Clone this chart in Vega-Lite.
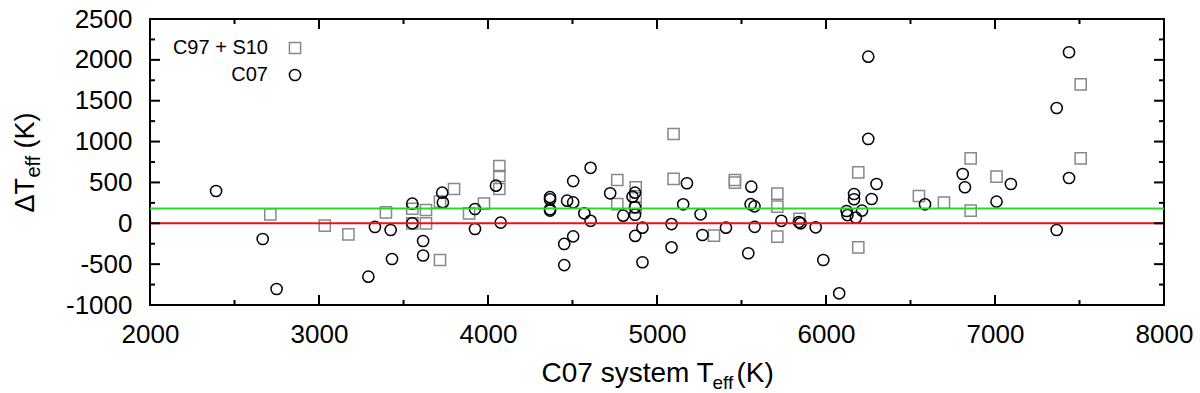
{
  "$schema": "https://vega.github.io/schema/vega-lite/v6.json",
  "width": 1014,
  "height": 286,
  "autosize": "none",
  "padding": {"left": 150, "top": 19, "right": 36, "bottom": 88},
  "background": "white",
  "config": {
    "view": {"stroke": "black", "strokeWidth": 2},
    "font": "Liberation Sans",
    "axis": {"domain": false, "ticks": false, "grid": false, "labelColor": "black", "titleColor": "black", "titleFontWeight": "normal", "labelFlush": false, "labelOverlap": false, "titleAlign": "left", "titleBaseline": "alphabetic"}
  },
  "datasets": {
    "xmajor": [{"v": 2000}, {"v": 3000}, {"v": 4000}, {"v": 5000}, {"v": 6000}, {"v": 7000}, {"v": 8000}],
    "xminor": [{"v": 2500}, {"v": 3500}, {"v": 4500}, {"v": 5500}, {"v": 6500}, {"v": 7500}],
    "ymajor": [{"v": -1000}, {"v": -500}, {"v": 0}, {"v": 500}, {"v": 1000}, {"v": 1500}, {"v": 2000}, {"v": 2500}],
    "yminor": [{"v": -750}, {"v": -250}, {"v": 250}, {"v": 750}, {"v": 1250}, {"v": 1750}, {"v": 2250}],
    "points": [
      {"series": "C07", "teff": 2391, "dteff": 395},
      {"series": "C07", "teff": 2667, "dteff": -192},
      {"series": "C07", "teff": 2749, "dteff": -804},
      {"series": "C07", "teff": 3292, "dteff": -653},
      {"series": "C07", "teff": 3331, "dteff": -45},
      {"series": "C07", "teff": 3424, "dteff": -82},
      {"series": "C07", "teff": 3432, "dteff": -437},
      {"series": "C07", "teff": 3552, "dteff": 240},
      {"series": "C07", "teff": 3552, "dteff": 0},
      {"series": "C07", "teff": 3616, "dteff": -217},
      {"series": "C07", "teff": 3616, "dteff": -394},
      {"series": "C07", "teff": 3729, "dteff": 375},
      {"series": "C07", "teff": 3733, "dteff": 255},
      {"series": "C07", "teff": 3923, "dteff": 175},
      {"series": "C07", "teff": 3923, "dteff": -70},
      {"series": "C07", "teff": 4047, "dteff": 460},
      {"series": "C07", "teff": 4075, "dteff": 8},
      {"series": "C07", "teff": 4367, "dteff": 320},
      {"series": "C07", "teff": 4367, "dteff": 292},
      {"series": "C07", "teff": 4367, "dteff": 172},
      {"series": "C07", "teff": 4367, "dteff": 155},
      {"series": "C07", "teff": 4468, "dteff": 277},
      {"series": "C07", "teff": 4504, "dteff": 516},
      {"series": "C07", "teff": 4504, "dteff": 255},
      {"series": "C07", "teff": 4504, "dteff": -160},
      {"series": "C07", "teff": 4451, "dteff": -253},
      {"series": "C07", "teff": 4451, "dteff": -512},
      {"series": "C07", "teff": 4607, "dteff": 679},
      {"series": "C07", "teff": 4570, "dteff": 122},
      {"series": "C07", "teff": 4607, "dteff": 30},
      {"series": "C07", "teff": 4723, "dteff": 367},
      {"series": "C07", "teff": 4800, "dteff": 93},
      {"series": "C07", "teff": 4870, "dteff": 375},
      {"series": "C07", "teff": 4855, "dteff": 326},
      {"series": "C07", "teff": 4870, "dteff": 196},
      {"series": "C07", "teff": 4870, "dteff": 105},
      {"series": "C07", "teff": 4871, "dteff": -155},
      {"series": "C07", "teff": 4914, "dteff": -54},
      {"series": "C07", "teff": 4914, "dteff": -477},
      {"series": "C07", "teff": 5086, "dteff": -10},
      {"series": "C07", "teff": 5086, "dteff": -294},
      {"series": "C07", "teff": 5155, "dteff": 232},
      {"series": "C07", "teff": 5177, "dteff": 490},
      {"series": "C07", "teff": 5258, "dteff": 110},
      {"series": "C07", "teff": 5269, "dteff": -143},
      {"series": "C07", "teff": 5408, "dteff": -54},
      {"series": "C07", "teff": 5558, "dteff": 448},
      {"series": "C07", "teff": 5554, "dteff": 234},
      {"series": "C07", "teff": 5577, "dteff": 207},
      {"series": "C07", "teff": 5578, "dteff": -43},
      {"series": "C07", "teff": 5540, "dteff": -367},
      {"series": "C07", "teff": 5736, "dteff": 30},
      {"series": "C07", "teff": 5840, "dteff": 15},
      {"series": "C07", "teff": 5850, "dteff": 0},
      {"series": "C07", "teff": 5939, "dteff": -49},
      {"series": "C07", "teff": 5984, "dteff": -449},
      {"series": "C07", "teff": 6078, "dteff": -857},
      {"series": "C07", "teff": 6122, "dteff": 150},
      {"series": "C07", "teff": 6127, "dteff": 100},
      {"series": "C07", "teff": 6177, "dteff": 69},
      {"series": "C07", "teff": 6213, "dteff": 155},
      {"series": "C07", "teff": 6166, "dteff": 358},
      {"series": "C07", "teff": 6166, "dteff": 294},
      {"series": "C07", "teff": 6250, "dteff": 1032},
      {"series": "C07", "teff": 6270, "dteff": 297},
      {"series": "C07", "teff": 6299, "dteff": 481},
      {"series": "C07", "teff": 6250, "dteff": 2039},
      {"series": "C07", "teff": 6586, "dteff": 232},
      {"series": "C07", "teff": 6809, "dteff": 603},
      {"series": "C07", "teff": 6822, "dteff": 441},
      {"series": "C07", "teff": 7009, "dteff": 265},
      {"series": "C07", "teff": 7094, "dteff": 481},
      {"series": "C07", "teff": 7438, "dteff": 2093},
      {"series": "C07", "teff": 7365, "dteff": 1411},
      {"series": "C07", "teff": 7438, "dteff": 554},
      {"series": "C07", "teff": 7365, "dteff": -82},
      {"series": "C97 + S10", "teff": 2712, "dteff": 110},
      {"series": "C97 + S10", "teff": 3034, "dteff": -29},
      {"series": "C97 + S10", "teff": 3174, "dteff": -135},
      {"series": "C97 + S10", "teff": 3396, "dteff": 134},
      {"series": "C97 + S10", "teff": 3552, "dteff": 178},
      {"series": "C97 + S10", "teff": 3552, "dteff": 0},
      {"series": "C97 + S10", "teff": 3633, "dteff": 163},
      {"series": "C97 + S10", "teff": 3633, "dteff": 0},
      {"series": "C97 + S10", "teff": 3716, "dteff": -449},
      {"series": "C97 + S10", "teff": 3716, "dteff": 265},
      {"series": "C97 + S10", "teff": 3799, "dteff": 420},
      {"series": "C97 + S10", "teff": 3888, "dteff": 122},
      {"series": "C97 + S10", "teff": 3976, "dteff": 240},
      {"series": "C97 + S10", "teff": 4067, "dteff": 701},
      {"series": "C97 + S10", "teff": 4067, "dteff": 579},
      {"series": "C97 + S10", "teff": 4067, "dteff": 420},
      {"series": "C97 + S10", "teff": 4765, "dteff": 530},
      {"series": "C97 + S10", "teff": 4765, "dteff": 234},
      {"series": "C97 + S10", "teff": 4874, "dteff": 441},
      {"series": "C97 + S10", "teff": 4874, "dteff": 330},
      {"series": "C97 + S10", "teff": 4874, "dteff": 190},
      {"series": "C97 + S10", "teff": 5098, "dteff": 1093},
      {"series": "C97 + S10", "teff": 5098, "dteff": 544},
      {"series": "C97 + S10", "teff": 5337, "dteff": -152},
      {"series": "C97 + S10", "teff": 5461, "dteff": 530},
      {"series": "C97 + S10", "teff": 5461, "dteff": 497},
      {"series": "C97 + S10", "teff": 5712, "dteff": 362},
      {"series": "C97 + S10", "teff": 5712, "dteff": 203},
      {"series": "C97 + S10", "teff": 5712, "dteff": -164},
      {"series": "C97 + S10", "teff": 5843, "dteff": 55},
      {"series": "C97 + S10", "teff": 6191, "dteff": 624},
      {"series": "C97 + S10", "teff": 6191, "dteff": -294},
      {"series": "C97 + S10", "teff": 6550, "dteff": 334},
      {"series": "C97 + S10", "teff": 6698, "dteff": 252},
      {"series": "C97 + S10", "teff": 6856, "dteff": 795},
      {"series": "C97 + S10", "teff": 6856, "dteff": 154},
      {"series": "C97 + S10", "teff": 7009, "dteff": 570},
      {"series": "C97 + S10", "teff": 7507, "dteff": 1701},
      {"series": "C97 + S10", "teff": 7507, "dteff": 795}
    ]
  },
  "layer": [
    {
      "data": {"name": "points"},
      "transform": [{"filter": "datum.series === 'C97 + S10'"}],
      "mark": {"type": "point", "filled": false, "strokeWidth": 1.5, "opacity": 1, "size": 125},
      "encoding": {
        "x": {
          "field": "teff", "type": "quantitative",
          "scale": {"domain": [2000, 8000], "nice": false, "zero": false},
          "axis": {
            "orient": "bottom",
            "values": [2000, 3000, 4000, 5000, 6000, 7000, 8000],
            "labelExpr": "'' + datum.value",
            "labelFontSize": 26, "labelPadding": 16,
            "title": "C07 system T", "titleFontSize": 28,
            "titleX": 391, "titleY": 76
          }
        },
        "y": {
          "field": "dteff", "type": "quantitative",
          "scale": {"domain": [-1000, 2500], "nice": false, "zero": false},
          "axis": {
            "orient": "left",
            "values": [-1000, -500, 0, 500, 1000, 1500, 2000, 2500],
            "labelExpr": "'' + datum.value",
            "labelFontSize": 26, "labelPadding": 18,
            "title": "\u0394T", "titleFontSize": 27, "titleAngle": 270,
            "titleX": -117, "titleY": 193
          }
        },
        "shape": {
          "field": "series", "type": "nominal",
          "scale": {"domain": ["C97 + S10", "C07"], "range": ["square", "circle"]},
          "legend": {
            "orient": "none", "legendX": 135, "legendY": 19, "title": null,
            "labelFontSize": 20, "labelColor": "black", "labelAlign": "right", "labelOffset": -37,
            "symbolStrokeWidth": 1.5, "symbolSize": 125, "rowPadding": 7, "padding": 0
          }
        },
        "color": {
          "field": "series", "type": "nominal",
          "scale": {"domain": ["C97 + S10", "C07"], "range": ["#888888", "#000000"]},
          "legend": {
            "orient": "none", "legendX": 135, "legendY": 19, "title": null,
            "labelFontSize": 20, "labelColor": "black", "labelAlign": "right", "labelOffset": -37,
            "symbolStrokeWidth": 1.5, "symbolSize": 125, "rowPadding": 7, "padding": 0
          }
        }
      }
    },
    {
      "data": {"name": "points"},
      "transform": [{"filter": "datum.series === 'C07'"}],
      "mark": {"type": "point", "filled": false, "strokeWidth": 1.5, "opacity": 1, "size": 125},
      "encoding": {
        "x": {
          "field": "teff", "type": "quantitative",
          "axis": {
            "orient": "bottom", "labels": false, "values": [],
            "title": "(K)", "titleFontSize": 28,
            "titleX": 586, "titleY": 76
          }
        },
        "y": {
          "field": "dteff", "type": "quantitative",
          "axis": {
            "orient": "left", "labels": false, "values": [],
            "title": "(K)", "titleFontSize": 27, "titleAngle": 270,
            "titleX": -117, "titleY": 129
          }
        },
        "shape": {"field": "series", "type": "nominal"},
        "color": {"field": "series", "type": "nominal"}
      }
    },
    {
      "data": {"values": [{}]},
      "mark": {"type": "rule", "color": "#22dd22", "strokeWidth": 2},
      "encoding": {
        "x": {
          "datum": 2000, "type": "quantitative",
          "axis": {
            "orient": "top", "labels": false, "values": [],
            "title": "eff", "titleFontSize": 19,
            "titleX": 562, "titleY": 369
          }
        },
        "x2": {"datum": 8000},
        "y": {
          "datum": 180, "type": "quantitative",
          "axis": {
            "orient": "right", "labels": false, "values": [],
            "title": "eff", "titleFontSize": 20, "titleAngle": 270,
            "titleX": -1125, "titleY": 158
          }
        }
      }
    },
    {
      "data": {"values": [{}]},
      "mark": {"type": "rule", "color": "#ee1111", "strokeWidth": 2},
      "encoding": {
        "x": {"datum": 2000, "type": "quantitative", "axis": null},
        "x2": {"datum": 8000},
        "y": {"datum": 0, "type": "quantitative", "axis": null}
      }
    },
    {
      "data": {"name": "xmajor"},
      "mark": {"type": "tick", "orient": "vertical", "size": 10, "thickness": 2, "yOffset": -5, "color": "black", "opacity": 1},
      "encoding": {
        "x": {"field": "v", "type": "quantitative", "axis": null},
        "y": {"datum": -1000, "type": "quantitative", "axis": null}
      }
    },
    {
      "data": {"name": "xmajor"},
      "mark": {"type": "tick", "orient": "vertical", "size": 10, "thickness": 2, "yOffset": 5, "color": "black", "opacity": 1},
      "encoding": {
        "x": {"field": "v", "type": "quantitative", "axis": null},
        "y": {"datum": 2500, "type": "quantitative", "axis": null}
      }
    },
    {
      "data": {"name": "xminor"},
      "mark": {"type": "tick", "orient": "vertical", "size": 5, "thickness": 2, "yOffset": -2.5, "color": "black", "opacity": 1},
      "encoding": {
        "x": {"field": "v", "type": "quantitative", "axis": null},
        "y": {"datum": -1000, "type": "quantitative", "axis": null}
      }
    },
    {
      "data": {"name": "xminor"},
      "mark": {"type": "tick", "orient": "vertical", "size": 5, "thickness": 2, "yOffset": 2.5, "color": "black", "opacity": 1},
      "encoding": {
        "x": {"field": "v", "type": "quantitative", "axis": null},
        "y": {"datum": 2500, "type": "quantitative", "axis": null}
      }
    },
    {
      "data": {"name": "ymajor"},
      "mark": {"type": "tick", "orient": "horizontal", "size": 10, "thickness": 2, "xOffset": 5, "color": "black", "opacity": 1},
      "encoding": {
        "y": {"field": "v", "type": "quantitative", "axis": null},
        "x": {"datum": 2000, "type": "quantitative", "axis": null}
      }
    },
    {
      "data": {"name": "ymajor"},
      "mark": {"type": "tick", "orient": "horizontal", "size": 10, "thickness": 2, "xOffset": -5, "color": "black", "opacity": 1},
      "encoding": {
        "y": {"field": "v", "type": "quantitative", "axis": null},
        "x": {"datum": 8000, "type": "quantitative", "axis": null}
      }
    },
    {
      "data": {"name": "yminor"},
      "mark": {"type": "tick", "orient": "horizontal", "size": 5, "thickness": 2, "xOffset": 2.5, "color": "black", "opacity": 1},
      "encoding": {
        "y": {"field": "v", "type": "quantitative", "axis": null},
        "x": {"datum": 2000, "type": "quantitative", "axis": null}
      }
    },
    {
      "data": {"name": "yminor"},
      "mark": {"type": "tick", "orient": "horizontal", "size": 5, "thickness": 2, "xOffset": -2.5, "color": "black", "opacity": 1},
      "encoding": {
        "y": {"field": "v", "type": "quantitative", "axis": null},
        "x": {"datum": 8000, "type": "quantitative", "axis": null}
      }
    }
  ],
  "resolve": {"axis": {"x": "independent", "y": "independent"}}
}
